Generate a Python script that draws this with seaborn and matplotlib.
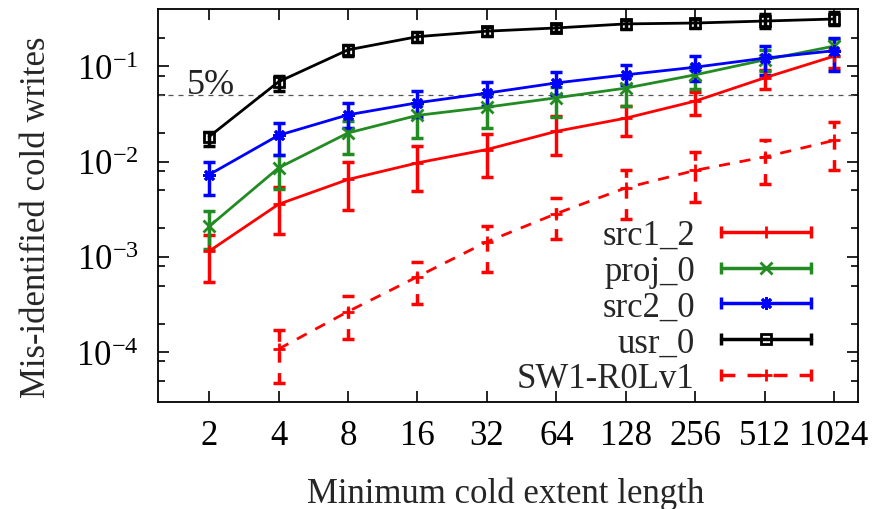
import numpy as np
import pandas as pd
import matplotlib
matplotlib.use("Agg")
import matplotlib.pyplot as plt
import seaborn as sns
from matplotlib.lines import Line2D
from matplotlib.legend_handler import HandlerLine2D, HandlerTuple
from matplotlib.ticker import LogLocator, NullFormatter, FixedLocator, FixedFormatter

# ---------------- data ----------------
lengths = [2, 4, 8, 16, 32, 64, 128, 256, 512, 1024]
tick_labels = ["2", "4", "8", "16", "32", "64", "128", "256", "512", "1024"]

src1_2 = [0.00115, 0.00357, 0.0065, 0.0097, 0.0134, 0.0208, 0.0286, 0.0432, 0.0758, 0.128]
src1_2_lo = [0.00054, 0.00172, 0.0031, 0.00486, 0.0069, 0.0118, 0.0188, 0.031, 0.058, 0.096]
src1_2_hi = [0.00168, 0.0054, 0.0100, 0.0147, 0.0196, 0.0303, 0.0386, 0.054, 0.092, 0.150]

proj_0 = [0.00209, 0.0086, 0.0200, 0.0306, 0.0373, 0.0468, 0.0591, 0.0815, 0.117, 0.163]
proj_0_lo = [0.00122, 0.0052, 0.0121, 0.0178, 0.0227, 0.0296, 0.0385, 0.058, 0.090, 0.129]
proj_0_hi = [0.00306, 0.0116, 0.0269, 0.0395, 0.049, 0.060, 0.080, 0.100, 0.150, 0.194]

src2_0 = [0.0073, 0.0189, 0.031, 0.0415, 0.0524, 0.067, 0.0815, 0.098, 0.122, 0.146]
src2_0_lo = [0.0045, 0.0116, 0.0227, 0.0296, 0.0385, 0.050, 0.064, 0.070, 0.081, 0.0898]
src2_0_hi = [0.0100, 0.0256, 0.0414, 0.0554, 0.0688, 0.0876, 0.104, 0.129, 0.164, 0.199]

usr_0 = [0.0183, 0.0689, 0.149, 0.205, 0.234, 0.253, 0.279, 0.285, 0.299, 0.314]
usr_0_lo = [0.0147, 0.0555, 0.130, 0.180, 0.210, 0.230, 0.245, 0.250, 0.250, 0.270]
usr_0_hi = [0.0206, 0.080, 0.169, 0.230, 0.260, 0.279, 0.307, 0.313, 0.354, 0.370]

sw_lengths = [4, 8, 16, 32, 64, 128, 256, 512, 1024]
sw1 = [1.08e-4, 2.67e-4, 6.2e-4, 1.44e-3, 2.85e-3, 5.3e-3, 8.1e-3, 0.0112, 0.0167]
sw1_lo = [4.8e-5, 1.37e-4, 3.2e-4, 7.0e-4, 1.56e-3, 2.5e-3, 3.8e-3, 5.8e-3, 8.1e-3]
sw1_hi = [1.73e-4, 3.9e-4, 8.9e-4, 2.1e-3, 4.2e-3, 8.1e-3, 1.27e-2, 1.67e-2, 0.026]

threshold = 0.05
threshold_label = "5%"

series = [
    # name, x, y, lo, hi, color, marker, filled, dashed
    ("src1_2", lengths, src1_2, src1_2_lo, src1_2_hi, "#ff0000", "+", True, False),
    ("proj_0", lengths, proj_0, proj_0_lo, proj_0_hi, "#228b22", "x", True, False),
    ("src2_0", lengths, src2_0, src2_0_lo, src2_0_hi, "#0000ff", (8, 2, 0), True, False),
    ("usr_0", lengths, usr_0, usr_0_lo, usr_0_hi, "#000000", "s", False, False),
    ("SW1-R0Lv1", sw_lengths, sw1, sw1_lo, sw1_hi, "#ff0000", "+", True, True),
]

# ---------------- style ----------------
sns.set_style("ticks")
plt.rcParams["font.family"] = ["Liberation Serif", "DejaVu Serif"]
plt.rcParams["mathtext.fontset"] = "custom"
plt.rcParams["mathtext.rm"] = "Liberation Serif"
plt.rcParams["mathtext.it"] = "Liberation Serif:italic"
plt.rcParams["axes.linewidth"] = 1.3

FS = 25
fig = plt.figure(figsize=(8.86, 5.10), dpi=100)
ax = fig.add_axes([0.1783, 0.2098, 0.9684 - 0.1783, 0.9804 - 0.2098])

LW = 2.0
ELW = 2.5
dash = (0, (4, 3.5))

handles = []
handler_map = {}
for name, xs, ys, lo, hi, color, marker, filled, dashed in series:
    df = pd.DataFrame({"x": xs, "y": ys})
    msize = 9 if marker != "s" else 7.5
    sns.lineplot(data=df, x="x", y="y", ax=ax, color=color, lw=LW,
                 marker=marker, markersize=msize,
                 markeredgecolor=color, markeredgewidth=2.0,
                 markerfacecolor=("none" if not filled else color),
                 linestyle=(dash if dashed else "-"), legend=False, zorder=3)
    y = np.array(ys)
    eb = ax.errorbar(xs, ys, yerr=[y - np.array(lo), np.array(hi) - y], fmt="none",
                     ecolor=color, elinewidth=ELW, capsize=4.2, capthick=ELW, zorder=2)
    if dashed:
        for lc in eb.lines[2]:
            lc.set_linestyle((0, (3, 3)))
    caps = Line2D([], [], color=color, lw=ELW, marker="|", markersize=9,
                  markeredgewidth=ELW, linestyle=(dash if dashed else "-"))
    mk = Line2D([], [], color=color, marker=marker, markersize=msize,
                markeredgecolor=color, markeredgewidth=2.0,
                markerfacecolor=("none" if not filled else color), linestyle="none")
    handler_map[caps] = HandlerLine2D(numpoints=2, marker_pad=0)
    handler_map[mk] = HandlerLine2D(numpoints=1)
    handles.append((caps, mk))

# threshold line
ax.axhline(threshold, color="#555555", lw=0.9, linestyle=(0, (4, 4)), zorder=1)
ax.text(0.041, threshold * 1.06, threshold_label, transform=ax.get_yaxis_transform(),
        fontsize=26, ha="left", va="baseline", color="#222222")

# axes
ax.set_xscale("log", base=2)
ax.set_yscale("log")
ax.set_xlim(1.2, 1300)
ax.set_ylim(3.0e-5, 0.4)
ax.xaxis.set_major_locator(FixedLocator(lengths))
ax.xaxis.set_major_formatter(FixedFormatter(tick_labels))
ax.xaxis.set_minor_locator(FixedLocator([]))
ax.yaxis.set_major_locator(LogLocator(base=10, numticks=10))
ax.yaxis.set_minor_locator(LogLocator(base=10, subs=[2, 5, 8], numticks=20))
ax.yaxis.set_minor_formatter(NullFormatter())

ax.tick_params(which="both", direction="in", top=True, right=True, labelsize=FS,
               width=1.2, colors="black")
ax.tick_params(which="major", length=8)
ax.tick_params(which="minor", length=5)
ax.tick_params(axis="x", pad=12)
ax.tick_params(axis="y", pad=14)
for s in ax.spines.values():
    s.set_visible(True)
    s.set_color("black")

ax.set_xlabel("Minimum cold extent length", fontsize=FS)
ax.set_ylabel("Mis-identified cold writes", fontsize=FS)
ax.xaxis.set_label_coords(0.497, -0.19)
ax.yaxis.set_label_coords(-0.15, 0.473)

labels = [s[0] for s in series]
leg = ax.legend(handles, labels, handler_map=handler_map, loc="lower right",
                bbox_to_anchor=(0.943, 0.0), frameon=False, markerfirst=False,
                fontsize=FS, handlelength=2.6, handletextpad=0.75,
                labelspacing=0.08, borderpad=0.0, borderaxespad=0.2)

fig.savefig("out.png", dpi=100)
